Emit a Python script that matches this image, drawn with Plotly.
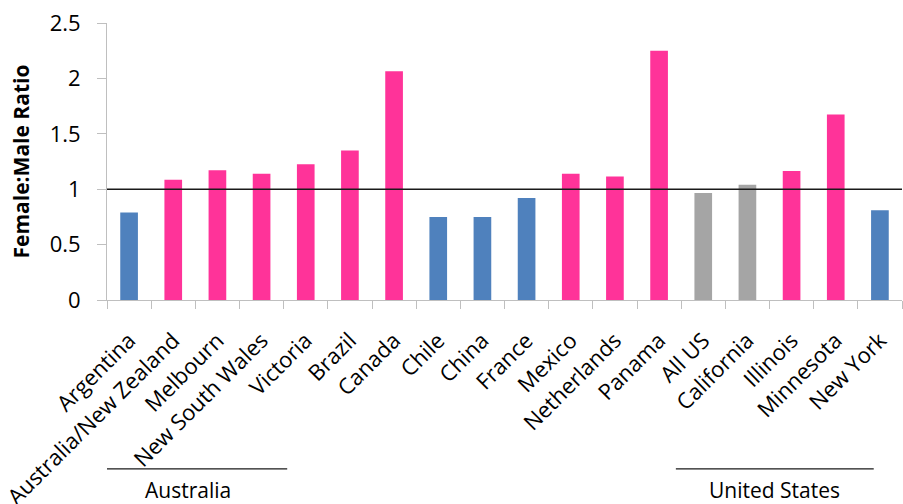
import plotly.graph_objects as go

categories = ["Argentina", "Australia/New Zealand", "Melbourn", "New South Wales",
              "Victoria", "Brazil", "Canada", "Chile", "China", "France", "Mexico",
              "Netherlands", "Panama", "All US", "California", "Illinois",
              "Minnesota", "New York"]
ratios = [0.79, 1.085, 1.17, 1.14, 1.225, 1.35, 2.065, 0.75, 0.75, 0.92, 1.14,
          1.115, 2.25, 0.965, 1.04, 1.165, 1.675, 0.81]
color_kind = ["low", "high", "high", "high", "high", "high", "high", "low", "low",
              "low", "high", "high", "high", "mid", "mid", "high", "high", "low"]
palette = {"low": "#4F81BD", "high": "#FF3399", "mid": "#A5A5A5"}
reference_ratio = 1.0
y_ticks = [0, 0.5, 1, 1.5, 2, 2.5]
y_tick_text = ["0", "0.5", "1", "1.5", "2", "2.5"]
groups = [("Australia", -0.9, 3.58), ("United States", 12.38, 16.86)]

FONT = "Open Sans"

fig = go.Figure()
fig.add_trace(go.Bar(
    x=categories, y=ratios,
    marker=dict(color=[palette[k] for k in color_kind], line=dict(width=0)),
    width=0.4,
))

fig.add_shape(type="line", xref="paper", yref="y", x0=0, x1=1,
              y0=reference_ratio, y1=reference_ratio,
              line=dict(color="#1a1a1a", width=1.6))

for name, a, b in groups:
    fig.add_shape(type="line", xref="x", yref="paper", x0=a, x1=b,
                  y0=-0.61, y1=-0.61, line=dict(color="#1a1a1a", width=1.2))
    fig.add_annotation(x=(a + b) / 2, y=-0.686, xref="x", yref="paper",
                       text=name, showarrow=False, yanchor="middle",
                       font=dict(family=FONT, size=21, color="#000"))

fig.update_layout(
    width=903, height=504,
    margin=dict(l=107, r=1, t=23, b=204),
    plot_bgcolor="white", paper_bgcolor="white",
    showlegend=False,
    font=dict(family=FONT, color="#000"),
)
fig.update_xaxes(
    type="category", tickangle=-45, tickfont=dict(family=FONT, size=22, color="#000"),
    showline=True, linecolor="#BFBFBF", linewidth=1,
    ticks="outside", tickson="boundaries", ticklen=8, tickcolor="#BFBFBF",
    ticklabelstandoff=18,
    showgrid=False, range=[-0.5, len(categories) - 0.5], automargin=False,
)
fig.update_yaxes(
    range=[0, 2.5], tickvals=y_ticks, ticktext=y_tick_text,
    tickfont=dict(family=FONT, size=22, color="#000"),
    showline=True, linecolor="#BFBFBF", linewidth=1,
    ticks="outside", ticklen=9, tickcolor="#BFBFBF", ticklabelstandoff=12,
    showgrid=False, zeroline=False, automargin=False,
    title=dict(text="<b>Female:Male Ratio</b>", font=dict(family=FONT, size=21, color="#000"),
               standoff=14),
)

fig.write_html("out.html", config={"displayModeBar": False},
               post_script="document.body.style.margin='0';")
